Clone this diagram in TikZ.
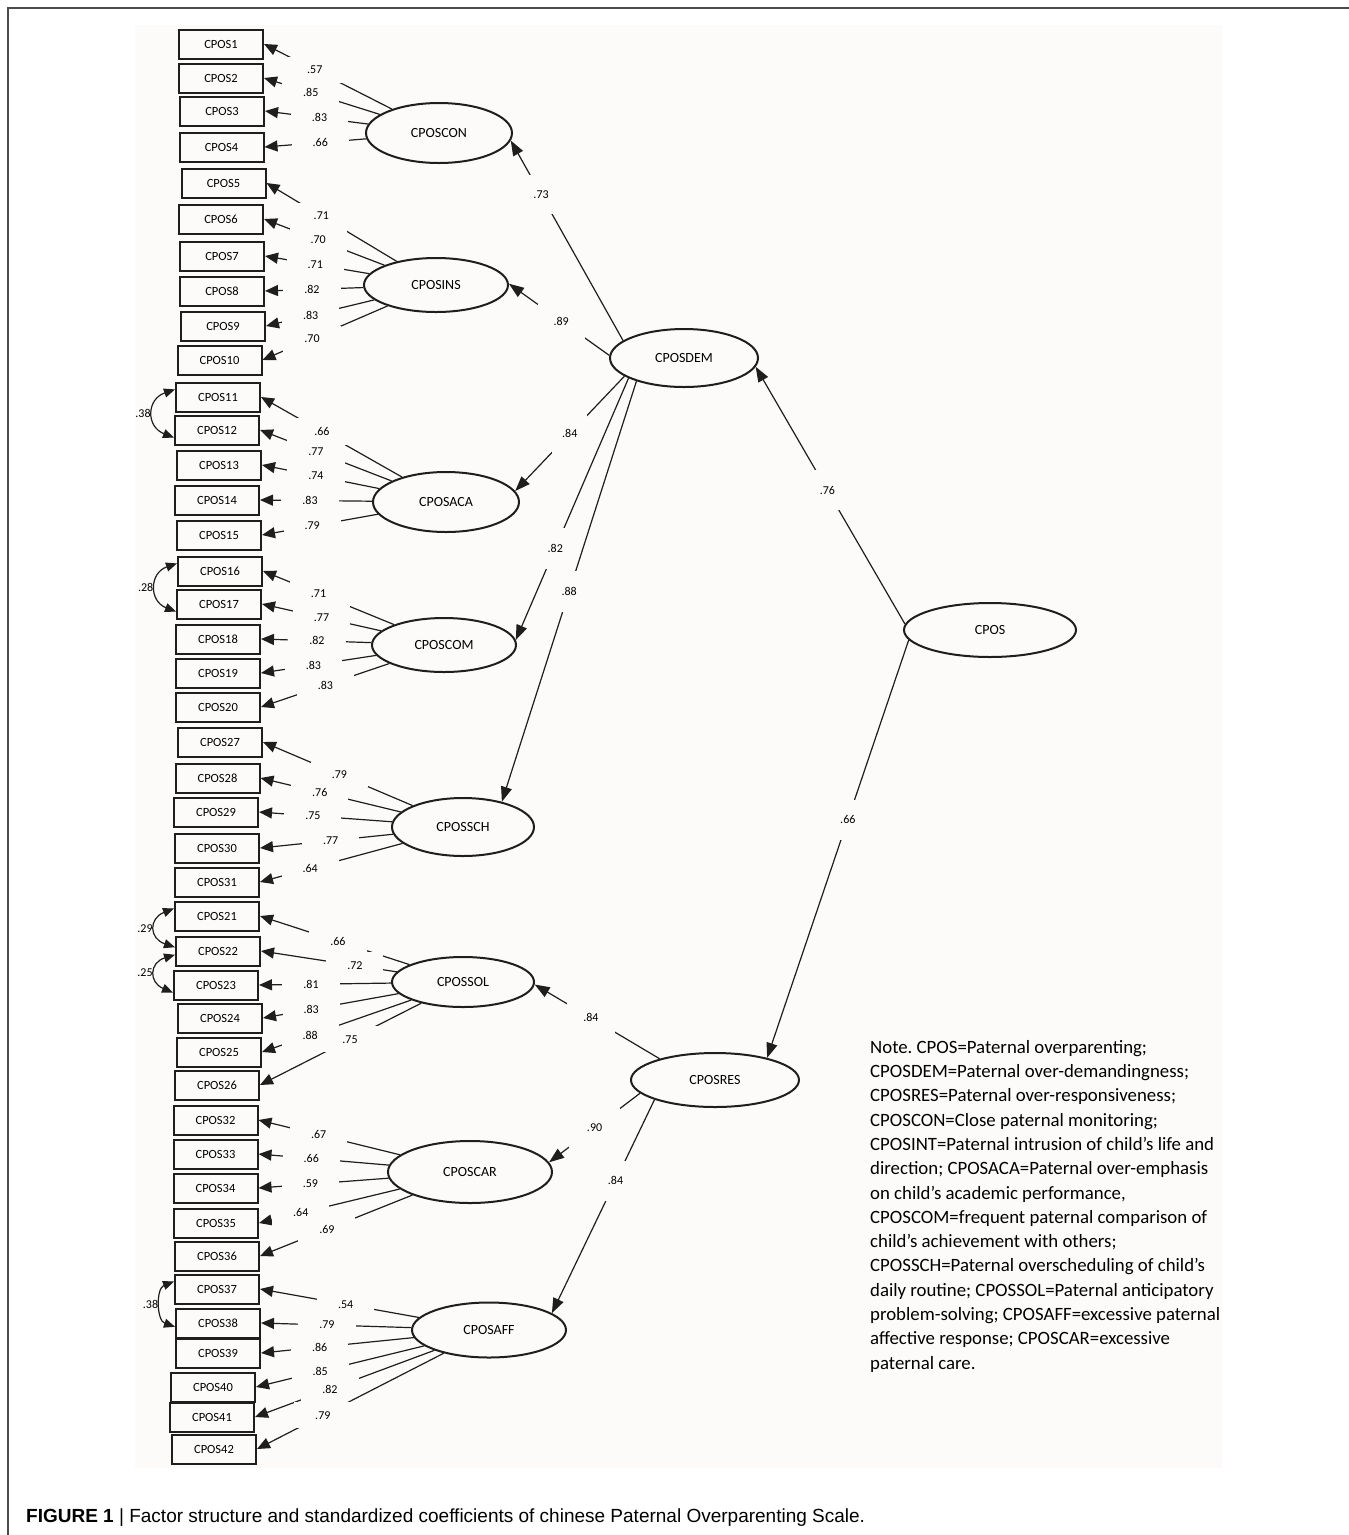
\documentclass[tikz,border=0pt]{standalone}
\usepackage{fontspec}
\setmainfont{Carlito}
\newfontfamily\capfont{Liberation Sans}
\usetikzlibrary{shapes.geometric,arrows.meta,calc}
\definecolor{paper}{RGB}{252,251,249}
\definecolor{ink}{RGB}{30,30,30}

\begin{document}
\begin{tikzpicture}[x=1pt, y=-1pt,
    obsbox/.style={draw=ink, line width=2pt, minimum width=84pt, minimum height=29pt,
        inner sep=0pt, font=\fontsize{12.5}{14}\selectfont},
    latent/.style={ellipse, draw=ink, line width=2pt, inner sep=0pt,
        font=\fontsize{14}{16}\selectfont},
    loadarr/.style={draw=ink, line width=1.2pt, -{Triangle[length=13pt, width=11pt]}},
    patharr/.style={draw=ink, line width=1.2pt, -{Triangle[length=15pt, width=11pt]}},
    covarr/.style={draw=ink, line width=1.2pt,
        {Triangle[length=11pt, width=9pt]}-{Triangle[length=11pt, width=9pt]}},
    wlabel/.style={fill=paper, inner xsep=21pt, inner ysep=9pt, font=\fontsize{12}{12}\selectfont},
    plabel/.style={fill=paper, inner xsep=10pt, inner ysep=16pt, font=\fontsize{12}{12}\selectfont},
    clabel/.style={left, inner sep=2pt, font=\fontsize{12}{12}\selectfont}
]
    % Page size and scanned area
    \useasboundingbox (0,0) rectangle (1349,1535);
    \fill[paper] (135,25) rectangle (1222,1468);
    \draw[black!70, line width=1.3pt] (8,1535) -- (8,8) -- (1349,8);

    % Observed items (left column)
    \node[obsbox] (b1) at (221,44) {CPOS1};
    \node[obsbox] (b2) at (221,78) {CPOS2};
    \node[obsbox] (b3) at (222,111) {CPOS3};
    \node[obsbox] (b4) at (221.5,147) {CPOS4};
    \node[obsbox] (b5) at (223.5,183) {CPOS5};
    \node[obsbox] (b6) at (221,219) {CPOS6};
    \node[obsbox] (b7) at (222,256) {CPOS7};
    \node[obsbox] (b8) at (222,291) {CPOS8};
    \node[obsbox] (b9) at (223,326) {CPOS9};
    \node[obsbox] (b10) at (219.5,360) {CPOS10};
    \node[obsbox] (b11) at (218,397) {CPOS11};
    \node[obsbox] (b12) at (217,430) {CPOS12};
    \node[obsbox] (b13) at (219,465) {CPOS13};
    \node[obsbox] (b14) at (217,500) {CPOS14};
    \node[obsbox] (b15) at (219,535) {CPOS15};
    \node[obsbox] (b16) at (220,571) {CPOS16};
    \node[obsbox] (b17) at (219,604) {CPOS17};
    \node[obsbox] (b18) at (218,639) {CPOS18};
    \node[obsbox] (b19) at (218,673) {CPOS19};
    \node[obsbox] (b20) at (218,707) {CPOS20};
    \node[obsbox] (b27) at (220,742) {CPOS27};
    \node[obsbox] (b28) at (217.5,778) {CPOS28};
    \node[obsbox] (b29) at (216,812) {CPOS29};
    \node[obsbox] (b30) at (217,848) {CPOS30};
    \node[obsbox] (b31) at (217,882) {CPOS31};
    \node[obsbox] (b21) at (217,916) {CPOS21};
    \node[obsbox] (b22) at (218,951) {CPOS22};
    \node[obsbox] (b23) at (216,985) {CPOS23};
    \node[obsbox] (b24) at (220,1018) {CPOS24};
    \node[obsbox] (b25) at (219,1052) {CPOS25};
    \node[obsbox] (b26) at (217,1085) {CPOS26};
    \node[obsbox] (b32) at (215.5,1120) {CPOS32};
    \node[obsbox] (b33) at (215.5,1154) {CPOS33};
    \node[obsbox] (b34) at (215.5,1188) {CPOS34};
    \node[obsbox] (b35) at (216,1223) {CPOS35};
    \node[obsbox] (b36) at (217,1256) {CPOS36};
    \node[obsbox] (b37) at (217,1289) {CPOS37};
    \node[obsbox] (b38) at (218,1323) {CPOS38};
    \node[obsbox] (b39) at (218,1353) {CPOS39};
    \node[obsbox] (b40) at (213,1387) {CPOS40};
    \node[obsbox] (b41) at (212,1417) {CPOS41};
    \node[obsbox] (b42) at (214,1449) {CPOS42};

    % First-order factors
    \node[latent, minimum width=146pt, minimum height=60pt] (con) at (439,133) {CPOSCON};
    \node[latent, minimum width=144pt, minimum height=54pt] (ins) at (436,285) {CPOSINS};
    \node[latent, minimum width=146pt, minimum height=60pt] (aca) at (446,502) {CPOSACA};
    \node[latent, minimum width=144pt, minimum height=54pt] (com) at (444,645) {CPOSCOM};
    \node[latent, minimum width=142pt, minimum height=58pt] (sch) at (463,827) {CPOSSCH};
    \node[latent, minimum width=142pt, minimum height=50pt] (sol) at (463,982) {CPOSSOL};
    \node[latent, minimum width=164pt, minimum height=62pt] (car) at (470,1172) {CPOSCAR};
    \node[latent, minimum width=154pt, minimum height=55pt] (aff) at (489,1330) {CPOSAFF};

    % Second- and third-order factors
    \node[latent, minimum width=148pt, minimum height=58pt] (dem) at (684,358) {CPOSDEM};
    \node[latent, minimum width=168pt, minimum height=54pt] (res) at (715,1080) {CPOSRES};
    \node[latent, minimum width=172pt, minimum height=54pt] (cpos) at (990,630) {CPOS};

    % Loadings: CPOSCON
    \draw[loadarr] (con) -- (b1.east) node[wlabel] (w1) at ($(b1.east)!57pt!(con)$) {.57};
    \draw[loadarr] (con) -- (b2.east) node[wlabel] (w2) at ($(b2.east)!49pt!(con)$) {.85};
    \draw[loadarr] (con) -- (b3.east) node[wlabel] (w3) at ($(b3.east)!55pt!(con)$) {.83};
    \draw[loadarr] (con) -- (b4.east) node[wlabel] (w4) at ($(b4.east)!56pt!(con)$) {.66};

    % Loadings: CPOSINS
    \draw[loadarr] (ins) -- (b5.east) node[wlabel] (w5) at ($(b5.east)!64pt!(ins)$) {.71};
    \draw[loadarr] (ins) -- (b6.east) node[wlabel] (w6) at ($(b6.east)!58pt!(ins)$) {.70};
    \draw[loadarr] (ins) -- (b7.east) node[wlabel] (w7) at ($(b7.east)!51pt!(ins)$) {.71};
    \draw[loadarr] (ins) -- (b8.east) node[wlabel] (w8) at ($(b8.east)!47pt!(ins)$) {.82};
    \draw[loadarr] (ins) -- (b9.east) node[wlabel] (w9) at ($(b9.east)!46pt!(ins)$) {.83};
    \draw[loadarr] (ins) -- (b10.east) node[wlabel] (w10) at ($(b10.east)!54pt!(ins)$) {.70};

    % Loadings: CPOSACA
    \draw[loadarr] (aca) -- (b11.east) node[wlabel] (w11) at ($(b11.east)!70pt!(aca)$) {.66};
    \draw[loadarr] (aca) -- (b12.east) node[wlabel] (w12) at ($(b12.east)!60pt!(aca)$) {.77};
    \draw[loadarr] (aca) -- (b13.east) node[wlabel] (w13) at ($(b13.east)!55pt!(aca)$) {.74};
    \draw[loadarr] (aca) -- (b14.east) node[wlabel] (w14) at ($(b14.east)!50pt!(aca)$) {.83};
    \draw[loadarr] (aca) -- (b15.east) node[wlabel] (w15) at ($(b15.east)!51pt!(aca)$) {.79};

    % Loadings: CPOSCOM
    \draw[loadarr] (com) -- (b16.east) node[wlabel] (w16) at ($(b16.east)!60pt!(com)$) {.71};
    \draw[loadarr] (com) -- (b17.east) node[wlabel] (w17) at ($(b17.east)!61pt!(com)$) {.77};
    \draw[loadarr] (com) -- (b18.east) node[wlabel] (w18) at ($(b18.east)!56pt!(com)$) {.82};
    \draw[loadarr] (com) -- (b19.east) node[wlabel] (w19) at ($(b19.east)!53pt!(com)$) {.83};
    \draw[loadarr] (com) -- (b20.east) node[wlabel] (w20) at ($(b20.east)!68pt!(com)$) {.83};

    % Loadings: CPOSSCH
    \draw[loadarr] (sch) -- (b27.east) node[wlabel] (w27) at ($(b27.east)!83pt!(sch)$) {.79};
    \draw[loadarr] (sch) -- (b28.east) node[wlabel] (w28) at ($(b28.east)!61pt!(sch)$) {.76};
    \draw[loadarr] (sch) -- (b29.east) node[wlabel] (w29) at ($(b29.east)!54pt!(sch)$) {.75};
    \draw[loadarr] (sch) -- (b30.east) node[wlabel] (w30) at ($(b30.east)!71pt!(sch)$) {.77};
    \draw[loadarr] (sch) -- (b31.east) node[wlabel] (w31) at ($(b31.east)!52pt!(sch)$) {.64};

    % Loadings: CPOSSOL
    \draw[loadarr] (sol) -- (b21.east) node[wlabel] (w21) at ($(b21.east)!82pt!(sol)$) {.66};
    \draw[loadarr] (sol) -- (b22.east) node[wlabel] (w22) at ($(b22.east)!95pt!(sol)$) {.72};
    \draw[loadarr] (sol) -- (b23.east) node[wlabel] (w23) at ($(b23.east)!52pt!(sol)$) {.81};
    \draw[loadarr] (sol) -- (b24.east) node[wlabel] (w24) at ($(b24.east)!49pt!(sol)$) {.83};
    \draw[loadarr] (sol) -- (b25.east) node[wlabel] (w25) at ($(b25.east)!51pt!(sol)$) {.88};
    \draw[loadarr] (sol) -- (b26.east) node[wlabel] (w26) at ($(b26.east)!101pt!(sol)$) {.75};

    % Loadings: CPOSCAR
    \draw[loadarr] (car) -- (b32.east) node[wlabel] (w32) at ($(b32.east)!62pt!(car)$) {.67};
    \draw[loadarr] (car) -- (b33.east) node[wlabel] (w33) at ($(b33.east)!53pt!(car)$) {.66};
    \draw[loadarr] (car) -- (b34.east) node[wlabel] (w34) at ($(b34.east)!52pt!(car)$) {.59};
    \draw[loadarr] (car) -- (b35.east) node[wlabel] (w35) at ($(b35.east)!43pt!(car)$) {.64};
    \draw[loadarr] (car) -- (b36.east) node[wlabel] (w36) at ($(b36.east)!72pt!(car)$) {.69};

    % Loadings: CPOSAFF
    \draw[loadarr] (aff) -- (b37.east) node[wlabel] (w37) at ($(b37.east)!87pt!(aff)$) {.54};
    \draw[loadarr] (aff) -- (b38.east) node[wlabel] (w38) at ($(b38.east)!66pt!(aff)$) {.79};
    \draw[loadarr] (aff) -- (b39.east) node[wlabel] (w39) at ($(b39.east)!59pt!(aff)$) {.86};
    \draw[loadarr] (aff) -- (b40.east) node[wlabel] (w40) at ($(b40.east)!66pt!(aff)$) {.85};
    \draw[loadarr] (aff) -- (b41.east) node[wlabel] (w41) at ($(b41.east)!80pt!(aff)$) {.82};
    \draw[loadarr] (aff) -- (b42.east) node[wlabel] (w42) at ($(b42.east)!74pt!(aff)$) {.79};

    % Error covariances
    \draw[covarr] (b11.170) to[bend right=70, looseness=1.6] node[clabel] (c1) {.38} (b12.190);
    \draw[covarr] (b16.170) to[bend right=70, looseness=1.55] node[clabel] (c2) {.28} (b17.190);
    \draw[covarr] (b21.170) to[bend right=70, looseness=1.8] node[clabel] (c3) {.29} (b22.175);
    \draw[covarr] (b22.185) to[bend right=70, looseness=1.8] node[clabel] (c4) {.25} (b23.190);
    \draw[covarr] (b37.170) to[bend right=70, looseness=1.1] node[clabel] (c5) {.38} (b38.185);

    % CPOSDEM -> first-order factors
    \draw[patharr] (dem.164) -- (con.-6) node[plabel, pos=.73] (p1) {.73};
    \draw[patharr] (dem.178) -- (ins.1) node[plabel, pos=.48, inner xsep=16pt] (p2) {.89};
    \draw[patharr] (dem.197) -- (aca.9) node[plabel, pos=.5] (p3) {.84};
    \draw[patharr] (dem.200) -- (com.4) node[plabel, pos=.65] (p4) {.82};
    \draw[patharr] (dem.206) -- (sch.33) node[plabel, pos=.5] (p5) {.88};

    % CPOS -> second-order factors
    \draw[patharr] (cpos.176) -- (dem.-7) node[plabel, pos=.52] (p6) {.76};
    \draw[patharr] (cpos.187) -- (res.23) node[plabel, pos=.43] (p7) {.66};

    % CPOSRES -> first-order factors
    \draw[patharr] (res.159) -- (sol.-2) node[plabel, pos=.55, inner xsep=16pt] (p8) {.84};
    \draw[patharr] (res.190) -- (car.7) node[plabel, pos=.5, inner xsep=18pt] (p9) {.90};
    \draw[patharr] (res.198) -- (aff.15) node[plabel, pos=.38] (p10) {.84};

    % Note
    \node[anchor=north west, align=left, inner sep=0pt, font=\fontsize{18.8}{24.3}\selectfont] (note) at (870,1040)
        {Note.\ CPOS=Paternal overparenting;\\
         CPOSDEM=Paternal over-demandingness;\\
         CPOSRES=Paternal over-responsiveness;\\
         CPOSCON=Close paternal monitoring;\\
         CPOSINT=Paternal intrusion of child’s life and\\
         direction; CPOSACA=Paternal over-emphasis\\
         on child’s academic performance,\\
         CPOSCOM=frequent paternal comparison of\\
         child’s achievement with others;\\
         CPOSSCH=Paternal overscheduling of child’s\\
         daily routine; CPOSSOL=Paternal anticipatory\\
         problem-solving; CPOSAFF=excessive paternal\\
         affective response; CPOSCAR=excessive\\
         paternal care.};

    % Caption
    \node[anchor=west, inner sep=0pt, font=\capfont\fontsize{19}{20}\selectfont] (caption) at (26,1518)
        {\textbf{FIGURE 1} | Factor structure and standardized coefficients of chinese Paternal Overparenting Scale.};
\end{tikzpicture}
\end{document}
